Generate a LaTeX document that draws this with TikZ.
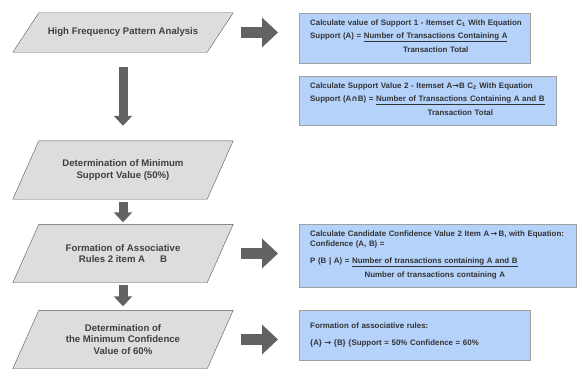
\documentclass[tikz,border=0pt]{standalone}
\usepackage{fontspec}
\setmainfont{Liberation Sans}
\newfontfamily\symfont{DejaVu Sans}
\usetikzlibrary{arrows.meta}
\usetikzlibrary{backgrounds}
\usetikzlibrary{calc}
\definecolor{paragray}{RGB}{221,221,221}
\definecolor{boxblue}{RGB}{181,210,250}
\definecolor{arrowgray}{RGB}{98,98,98}
\newcommand{\ratio}[2]{\begin{tabular}[t]{@{}c@{}}#1\\[-1.5pt]\hline\rule{0pt}{11pt}#2\end{tabular}}
\newcommand{\arr}{{\symfont →}}

\begin{document}
\begin{tikzpicture}[x=1pt,y=-1pt,
  stagebox/.style={minimum width=194pt, minimum height=58pt, align=center,
    text=black!75, inner sep=1pt, font=\fontsize{9.6}{11.5}\selectfont\bfseries},
  stageline/.style={draw=black!65, fill=paragray},
  calcbox/.style={draw=gray!75, fill=boxblue, anchor=north west, align=left,
    text=black!80, inner xsep=11pt, inner ysep=0pt,
    font=\fontsize{7.9}{13}\selectfont\bfseries},
  rightarrow/.style={arrowgray, line width=11pt, -{Triangle[width=29pt,length=16pt]},
    shorten <=21pt, shorten >=21pt},
  downarrow/.style={arrowgray, line width=9pt, -{Triangle[width=18pt,length=10pt]}}
]
\useasboundingbox (0,0) rectangle (577,369);

% flow on the left
\node[stagebox, minimum height=39pt] (analysis) at (123,32.5) {High Frequency Pattern Analysis};
\node[stagebox] (support) at (123,170) {Determination of Minimum\\Support Value (50\%)};
\node[stagebox] (rules) at (123,253.5) {Formation of Associative\\Rules 2 item A \quad\ B};
\node[stagebox] (confidence) at (123,339.5) {Determination of\\the Minimum Confidence\\Value of 60\%};

% slanted outlines behind the text
\begin{scope}[on background layer]
\foreach \n in {analysis,support,rules,confidence}
  \path[stageline] ([xshift=13pt]\n.north west) -- ([xshift=13pt]\n.north east)
    -- ([xshift=-13pt]\n.south east) -- ([xshift=-13pt]\n.south west) -- cycle;
\end{scope}

% equations on the right
\node[calcbox, text width=209pt, minimum height=50pt] (supp1) at (299,13)
  {\mbox{Calculate value of Support 1 - Itemset C\textsubscript{1} With Equation}\\
   \mbox{Support (A) = \ratio{Number of Transactions Containing A}{Transaction Total}}};
\node[calcbox, text width=235pt, minimum height=49pt] (supp2) at (299,76)
  {\mbox{Calculate Support Value 2 - Itemset A\arr B C\textsubscript{2} With Equation}\\
   \mbox{Support (A{\symfont ∩}B) = \ratio{Number of Transactions Containing A and B}{Transaction Total}}};
\node[calcbox, text width=255pt, minimum height=63pt] (conf2) at (299,224)
  {\mbox{Calculate Candidate Confidence Value 2 Item A\,\arr\,B, with Equation:}\\[-3pt]
   Confidence (A, B) =\\[4pt]
   \mbox{P (B | A) = \ratio{Number of transactions containing A and B}{Number of transactions containing A}}};
\node[calcbox, text width=209pt, minimum height=50pt] (assoc) at (299,310)
  {Formation of associative rules:\\[4pt]
   \mbox{\{A\} \arr\ \{B\} \{Support = 50\% Confidence = 60\%}};

% connectors
\draw[downarrow, shorten <=15pt, shorten >=15pt] (analysis.south) -- (support.north);
\draw[downarrow, shorten <=3pt, shorten >=2pt] (support.south) -- (rules.north);
\draw[downarrow, shorten <=2pt, shorten >=4pt] (rules.south) -- (confidence.north);
\draw[rightarrow] (analysis.east) -- (analysis.east -| supp1.west);
\draw[rightarrow] (rules.east) -- (rules.east -| conf2.west);
\draw[rightarrow] (confidence.east) -- (confidence.east -| assoc.west);
\end{tikzpicture}
\end{document}
